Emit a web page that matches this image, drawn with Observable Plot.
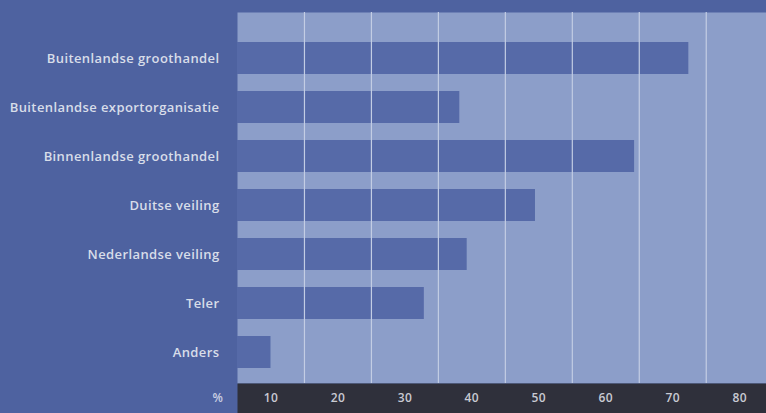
<!DOCTYPE html>
<html>
<head>
<meta charset="utf-8">
<script src="https://cdn.jsdelivr.net/npm/d3@7"></script>
<script src="https://cdn.jsdelivr.net/npm/@observablehq/plot@0.6"></script>
<style>
  html, body { margin: 0; padding: 0; background: #4e62a0; }
  #chart svg { display: block; }
</style>
</head>
<body>
<div id="chart"></div>
<script>
const categories = [
  "Buitenlandse groothandel",
  "Buitenlandse exportorganisatie",
  "Binnenlandse groothandel",
  "Duitse veiling",
  "Nederlandse veiling",
  "Teler",
  "Anders"
];
const values = [67.4, 33.2, 59.3, 44.5, 34.3, 27.9, 5.0];
const gridValues = [10, 20, 30, 40, 50, 60, 70];
const tickLabels = [10, 20, 30, 40, 50, 60, 70, 80];
const unitLabel = "%";

const data = categories.map((c, i) => ({category: c, value: values[i]}));

const darkBlue = "#4e62a0";
const lightBlue = "#8c9ec9";
const barBlue = "#566aa8";
const gridColor = "#c3cde4";
const stripColor = "#2f303b";
const font = "'Open Sans', sans-serif";

const chart = Plot.plot({
  width: 766,
  height: 413,
  marginLeft: 237,
  marginRight: 0,
  marginTop: 12,
  marginBottom: 30,
  style: {background: darkBlue, fontFamily: font, overflow: "visible", letterSpacing: "0.4px"},
  x: {domain: [0, 79], axis: null},
  y: {domain: categories, axis: null, paddingInner: 0.35, paddingOuter: 0.46, align: 0.67},
  marks: [
    Plot.frame({fill: lightBlue, stroke: null}),
    Plot.frame({fill: stripColor, stroke: null, insetTop: 371, insetBottom: -30}),
    Plot.barX(data, {x: "value", y: "category", fill: barBlue}),
    Plot.ruleX(gridValues, {stroke: gridColor, strokeWidth: 1.2}),
    Plot.text(data, {
      y: "category", text: "category", frameAnchor: "left", dx: -18,
      textAnchor: "end", fill: "#d8dde9", fontSize: 13, fontWeight: 600
    }),
    Plot.text(tickLabels, {
      x: d => d - 5, text: d => String(d), frameAnchor: "bottom", dy: 18,
      fill: "#c9cad3", fontSize: 12, fontWeight: 600
    }),
    Plot.text([unitLabel], {
      frameAnchor: "bottom-left", dx: -25, dy: 18, text: d => d,
      fill: "#c9cfe2", fontSize: 12, fontWeight: 600
    })
  ]
});
document.getElementById("chart").appendChild(chart);
</script>
</body>
</html>
